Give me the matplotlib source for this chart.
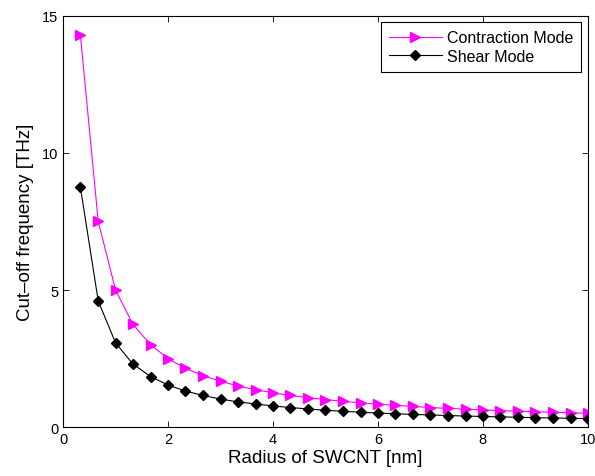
import matplotlib
matplotlib.use("Agg")
import matplotlib.pyplot as plt

plt.rcParams['font.family'] = ['Liberation Sans', 'DejaVu Sans']

radius = [0.33, 0.67, 1.00, 1.33, 1.67, 2.00, 2.33, 2.67, 3.00, 3.33,
          3.67, 4.00, 4.33, 4.67, 5.00, 5.33, 5.67, 6.00, 6.33, 6.67,
          7.00, 7.33, 7.67, 8.00, 8.33, 8.67, 9.00, 9.33, 9.67, 10.00]
contraction = [14.3, 7.5, 5.0, 3.75, 3.0, 2.5, 2.14, 1.875, 1.667, 1.5,
               1.36, 1.25, 1.15, 1.07, 1.0, 0.94, 0.88, 0.83, 0.79, 0.75,
               0.71, 0.68, 0.65, 0.625, 0.6, 0.577, 0.556, 0.536, 0.517, 0.5]
shear = [8.75, 4.6, 3.07, 2.3, 1.84, 1.53, 1.315, 1.15, 1.02, 0.92,
         0.84, 0.77, 0.71, 0.66, 0.61, 0.575, 0.54, 0.51, 0.485, 0.46,
         0.44, 0.42, 0.40, 0.385, 0.37, 0.355, 0.34, 0.33, 0.317, 0.307]

xticks = [0, 2, 4, 6, 8, 10]
yticks = [0, 5, 10, 15]

fig = plt.figure(figsize=(5.95, 4.77), dpi=100)
ax = fig.add_axes([0.106, 0.1027, 0.882, 0.8617])

ax.plot(radius, contraction, color='#FF00FF', marker='>', markersize=7,
        linewidth=0.8, label='Contraction Mode')
ax.plot(radius, shear, color='black', marker='D', markersize=5.5,
        linewidth=0.8, label='Shear Mode')

ax.set_xlim(0, 10)
ax.set_ylim(0, 15)
ax.set_xticks(xticks)
ax.set_yticks(yticks)
ax.tick_params(direction='in', top=True, right=True, labelsize=10.5, length=4, width=0.6)
for s in ax.spines.values():
    s.set_linewidth(0.8)

ax.set_xlabel('Radius of SWCNT [nm]', fontsize=13.5, labelpad=2)
ax.set_ylabel('Cut\u2013off frequency [THz]', fontsize=13.5, labelpad=6)

leg = ax.legend(loc='upper right', fontsize=11.5, frameon=True, fancybox=False,
                edgecolor='black', framealpha=1, borderaxespad=0.4,
                handlelength=3.3, handletextpad=0.35, borderpad=0.5,
                labelspacing=0.2)
leg.get_frame().set_linewidth(0.8)

fig.savefig('out.png', dpi=100)
